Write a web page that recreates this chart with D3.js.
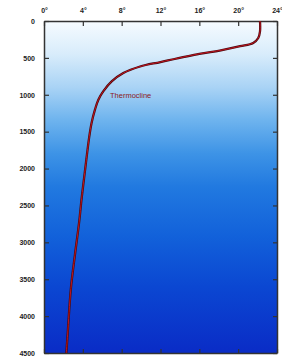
<!DOCTYPE html>
<html>
<head>
<meta charset="utf-8">
<script src="https://cdn.jsdelivr.net/npm/d3@7"></script>
<style>
  body { margin: 0; background: #fff; }
  svg { display: block; }
  .tick text { font-family: "Liberation Sans", Arial, sans-serif; font-weight: bold; font-size: 7px; fill: #222; }
</style>
</head>
<body>
<svg id="chart"></svg>
<script>
const width = 282;
const height = 356;
const margin = {top: 21, right: 5, bottom: 3, left: 44};

// temperature profile (depth in m, temperature in deg C)
const depths = [0, 140, 230, 297, 342, 400, 445, 556, 617, 706, 819, 954, 1066, 1201, 1381, 1561, 2053, 2412, 2727, 3176, 3625, 4255, 4500];
const temps = [22.25, 22.25, 22.07, 21.55, 20.2, 18.1, 16.0, 12.0, 9.9, 8.17, 6.97, 6.1, 5.6, 5.25, 4.9, 4.67, 4.2, 3.87, 3.62, 3.18, 2.77, 2.43, 2.3];

const xTicks = [0, 4, 8, 12, 16, 20, 24];
const yTicks = [0, 500, 1000, 1500, 2000, 2500, 3000, 3500, 4000, 4500];

const svg = d3.select("#chart").attr("width", width).attr("height", height);

const x = d3.scaleLinear().domain([0, 24]).range([margin.left, width - margin.right]);
const y = d3.scaleLinear().domain([0, 4500]).range([margin.top, height - margin.bottom]);

// water background
const defs = svg.append("defs");
const grad = defs.append("linearGradient")
    .attr("id", "water")
    .attr("x1", 0).attr("y1", 0).attr("x2", 0).attr("y2", 1);
const stops = [
    [0, "#f6fbff"], [0.1, "#d8ecfb"], [0.2, "#a9d3f5"], [0.3, "#6db3ee"],
    [0.4, "#3d93e6"], [0.5, "#2179e0"], [0.65, "#1261da"], [0.8, "#0b47d2"], [1, "#0a2cc6"]
];
grad.selectAll("stop").data(stops).join("stop")
    .attr("offset", d => d[0])
    .attr("stop-color", d => d[1]);

svg.append("rect")
    .attr("x", x(0)).attr("y", y(0))
    .attr("width", x(24) - x(0)).attr("height", y(4500) - y(0))
    .attr("fill", "url(#water)");

// axes, ticks pointing inward
const topAxis = svg.append("g").attr("transform", `translate(0,${y(0)})`)
    .call(d3.axisTop(x).tickValues(xTicks).tickFormat(d => d + "°").tickSizeInner(-5).tickSizeOuter(0).tickPadding(8));
const bottomAxis = svg.append("g").attr("transform", `translate(0,${y(4500)})`)
    .call(d3.axisBottom(x).tickValues(xTicks).tickFormat("").tickSizeInner(-4).tickSizeOuter(0));
const leftAxis = svg.append("g").attr("transform", `translate(${x(0)},0)`)
    .call(d3.axisLeft(y).tickValues(yTicks).tickSizeInner(-5).tickSizeOuter(0).tickPadding(9).tickFormat(d3.format("d")));
const rightAxis = svg.append("g").attr("transform", `translate(${x(24)},0)`)
    .call(d3.axisRight(y).tickValues(yTicks).tickFormat("").tickSizeInner(-4).tickSizeOuter(0));

[topAxis, bottomAxis, leftAxis, rightAxis].forEach(g => {
    g.select(".domain").attr("stroke", "#333").attr("stroke-width", 1.5);
    g.selectAll(".tick line").attr("stroke", "#333").attr("stroke-width", 1.2);
});

// temperature curve
const pts = depths.map((d, i) => [temps[i], d]);
const line = d3.line()
    .x(d => x(d[0]))
    .y(d => y(d[1]))
    .curve(d3.curveCatmullRom.alpha(0.5));

svg.append("path")
    .datum(pts)
    .attr("d", line)
    .attr("fill", "none")
    .attr("stroke", "#4a0a10")
    .attr("stroke-width", 2.3);
svg.append("path")
    .datum(pts)
    .attr("d", line)
    .attr("fill", "none")
    .attr("stroke", "#c0141e")
    .attr("stroke-width", 1);

svg.append("text")
    .attr("x", x(6.8))
    .attr("y", y(1050))
    .attr("font-family", "Liberation Sans, Arial, sans-serif")
    .attr("font-size", 7.5)
    .attr("fill", "#8b1a22")
    .text("Thermocline");
</script>
</body>
</html>
